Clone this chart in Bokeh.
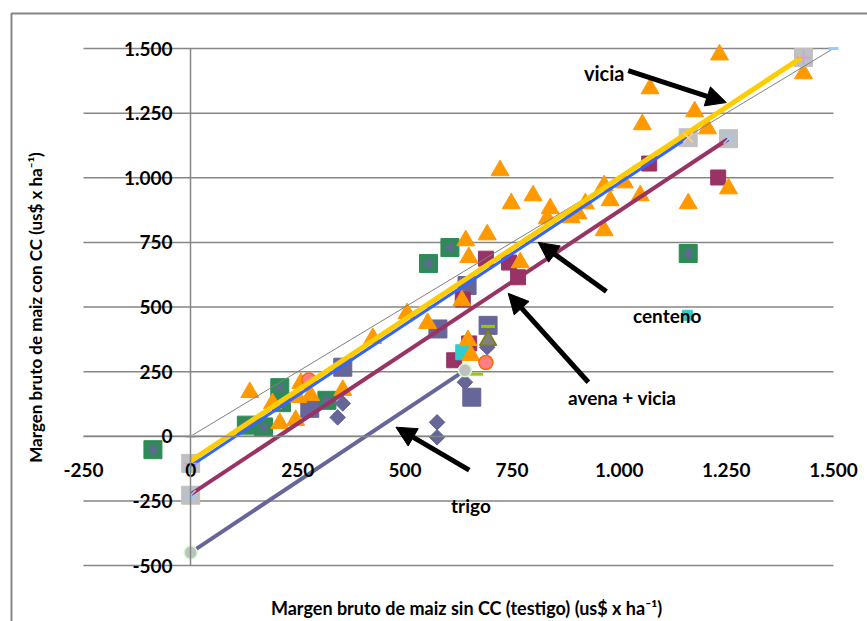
import math
from bokeh.plotting import figure
from bokeh.models import (FixedTicker, Range1d, Label, Arrow, NormalHead, BoxAnnotation)
from bokeh.embed import file_html
from bokeh.resources import INLINE

# ---------------- data ----------------
x_ticks = [-250, 0, 250, 500, 750, 1000, 1250, 1500]
x_tick_labels = ["-250", "0", "250", "500", "750", "1.000", "1.250", "1.500"]
y_ticks = [-500, -250, 0, 250, 500, 750, 1000, 1250, 1500]
y_tick_labels = ["-500", "-250", "0", "250", "500", "750", "1.000", "1.250", "1.500"]

# vicia (orange triangles)
vicia_x = [1234, 1430, 1072, 1176, 1054, 1206, 722, 748, 799, 839, 888, 904, 921,
           965, 1012, 979, 1049, 1161, 965, 1255, 642, 692, 649, 769, 633, 505,
           553, 425, 647, 654, 280, 355, 138, 191, 208, 245, 257, 250, 832]
vicia_y = [1476, 1403, 1345, 1256, 1206, 1190, 1028, 900, 931, 881, 846, 861, 900,
           970, 981, 912, 931, 900, 796, 958, 757, 780, 692, 672, 525, 475,
           437, 379, 371, 313, 158, 178, 170, 127, 50, 62, 205, 151, 842]

# green squares with asterisk
green_x = [-88, 130, 170, 208, 212, 318, 555, 605, 1161]
green_y = [-52, 43, 36, 188, 130, 139, 668, 730, 707]

# avena + vicia (maroon squares)
maroon_x = [689, 743, 764, 1070, 1231, 635, 650, 615]
maroon_y = [687, 672, 615, 1055, 1001, 529, 359, 294]

# slate squares
slate_sq_x = [645, 577, 355, 694, 656, 278]
slate_sq_y = [583, 415, 267, 429, 151, 108]

# trigo (slate diamonds)
trigo_x = [355, 343, 575, 575, 640, 692]
trigo_y = [127, 73, 54, -4, 209, 344]

# other small series
cyan_x = [636]
cyan_y = [325]
coral_x = [689, 276]
coral_y = [285, 218]
graytri_x = [694]
graytri_y = [371]
dash_x = [694, 666]
dash_y = [425, 240]

# regression lines (end points)
vicia_line_x = [0, 1425]
vicia_line_y = [-95, 1465]
blue_line_x = [0, 1160]
blue_line_y = [-115, 1155]
avena_line_x = [0, 1255]
avena_line_y = [-225, 1151]
trigo_line_x = [0, 640]
trigo_line_y = [-450, 255]
one_line_x = [0, 1500]
one_line_y = [0, 1500]

# ---------------- geometry ----------------
W, H = 867, 621
PX_L, PX_R = 83, 833     # pixel of x=-250 and x=1500
PX_T, PX_B = 48, 565     # pixel of y=1500 and y=-500
sx = (PX_R - PX_L) / 1750.0
sy = (PX_B - PX_T) / 2000.0
x_start = -250 - PX_L / sx
x_end = -250 + (W - PX_L) / sx
y_end = 1500 + PX_T / sy
y_start = 1500 - (H - PX_T) / sy

FONT = "Lato"
p = figure(width=W, height=H, output_backend="svg", toolbar_location=None,
           x_range=Range1d(x_start, x_end), y_range=Range1d(y_start, y_end),
           min_border_left=0, min_border_right=0, min_border_top=0,
           min_border_bottom=0)
p.outline_line_color = None
p.background_fill_color = "white"
p.border_fill_color = "white"
p.xgrid.visible = False
p.ygrid.visible = False

# horizontal gridlines (limited to the plot area)
p.segment(x0=[x_ticks[0]] * len(y_ticks), y0=y_ticks,
          x1=[x_ticks[-1]] * len(y_ticks), y1=y_ticks,
          line_color="#868686", line_width=1.5)

for ax in (p.xaxis[0], p.yaxis[0]):
    ax.fixed_location = 0
    ax.axis_line_color = "#868686"
    ax.axis_line_width = 1.5
    ax.major_tick_out = 0
    ax.major_tick_in = 0
    ax.minor_tick_out = 0
    ax.minor_tick_in = 0
    ax.major_label_text_font = FONT
    ax.major_label_text_font_style = "bold"
    ax.major_label_text_font_size = "19px"
    ax.major_label_text_color = "black"

p.xaxis.ticker = FixedTicker(ticks=x_ticks)
p.xaxis.major_label_overrides = {t: s for t, s in zip(x_ticks, x_tick_labels)}
p.xaxis.major_label_standoff = 27
p.xaxis.bounds = (x_ticks[0], x_ticks[-1])
p.yaxis.ticker = FixedTicker(ticks=y_ticks)
p.yaxis.major_label_overrides = {t: s for t, s in zip(y_ticks, y_tick_labels)}
p.yaxis.major_label_standoff = 18
p.yaxis.bounds = (y_ticks[0], y_ticks[-1])

# outer chart border
p.add_layout(BoxAnnotation(left=11, right=3000, top=H - 13, bottom=-3000,
                           left_units="screen", right_units="screen",
                           top_units="screen", bottom_units="screen",
                           fill_alpha=0, line_color="#868686", line_alpha=1.0,
                           line_width=2))

# ---------------- markers ----------------
p.scatter(green_x, green_y, marker="square", size=18, fill_color="#2e8b57",
          line_color="#2e8b57")
p.scatter(green_x, green_y, marker="asterisk", size=12, line_color="#666699",
          line_width=1.5)
p.scatter(slate_sq_x, slate_sq_y, marker="square", size=18, fill_color="#666699",
          line_color="#666699")
p.scatter(maroon_x, maroon_y, marker="square", size=15, fill_color="#993366",
          line_color="#993366")
p.scatter(trigo_x, trigo_y, marker="square", size=11, angle=math.pi / 4,
          fill_color="#666699", line_color="#666699")
p.scatter(cyan_x, cyan_y, marker="square", size=15, fill_color="#33cccc",
          line_color="#33cccc")
p.scatter(graytri_x, graytri_y, marker="triangle", size=17, fill_color="#808080",
          line_color="#808000", line_width=1.5)
p.scatter(vicia_x, vicia_y, marker="triangle", size=18, fill_color="#ff9900",
          line_color="#ff9900")
p.scatter(coral_x, coral_y, marker="circle", size=14, fill_color="#ff8080",
          line_color="#ff6600", line_width=1.5)
p.scatter(dash_x, dash_y, marker="dash", size=14, line_color="#99cc00",
          line_width=3)

# end-point markers of the fitted lines
end_x = [0, 0, 1430, 1161, 1255]
end_y = [-105, -228, 1465, 1155, 1151]
p.scatter(end_x, end_y, marker="square", size=18, fill_color="#c0c0c0",
          line_color="#c0c0c0")

# ---------------- lines ----------------
p.line(one_line_x, one_line_y, line_color="#808080", line_width=1)
p.line(trigo_line_x, trigo_line_y, line_color="#666699", line_width=4)
p.line(avena_line_x, avena_line_y, line_color="#993366", line_width=4)
p.line(blue_line_x, blue_line_y, line_color="#3366ff", line_width=3)
p.line(vicia_line_x, vicia_line_y, line_color="#ffcc00", line_width=5)

p.scatter([1430, 0], [1465, -105], marker="cross", size=14, line_color="#cc99ff",
          line_width=1.5)
p.scatter([1161], [1155], marker="x", size=14, line_color="#ffcc99", line_width=1.5)
p.scatter([1255, 0], [1151, -228], marker="x", size=14, line_color="#99ccff",
          line_width=1.5)
p.scatter(trigo_line_x, trigo_line_y, marker="circle", size=13,
          fill_color="#c0c0c0", line_color="#ccffcc", line_width=1.5)
p.scatter(one_line_x, one_line_y, marker="dash", size=10, line_color="#99ccff",
          line_width=3)
p.scatter([1159], [468], marker="square", size=10, fill_color="#33cccc",
          line_color="#33cccc")

# ---------------- annotations ----------------
def arrow(x0, y0, x1, y1):
    p.add_layout(Arrow(x_start=x0, y_start=y0, x_end=x1, y_end=y1,
                       line_color="black", line_width=5,
                       end=NormalHead(size=20, fill_color="black",
                                      line_color="black", line_width=1)))

arrow(1021, 1414, 1250, 1291)   # vicia
arrow(970, 560, 811, 750)       # blue line
arrow(928, 209, 741, 553)       # avena + vicia
arrow(650, -131, 479, 35)       # trigo

def txt(x, y, s, size="19px"):
    p.add_layout(Label(x=x, y=y, text=s, text_font=FONT, text_font_style="bold",
                       text_font_size=size, text_align="center",
                       text_baseline="middle", text_color="black"))

txt(965, 1406, "vicia", "20px")
txt(1112, 467, "centeno", "19px")
txt(1007, 151, "avena + vicia", "19px")
txt(654, -267, "trigo", "19px")

# axis titles
p.add_layout(Label(x=35, y=H - 307, x_units="screen", y_units="screen",
                   text="Margen bruto de maiz con CC (us$ x ha\u207b\u00b9)",
                   angle=math.pi / 2, text_font=FONT, text_font_style="bold",
                   text_font_size="17px", text_align="center",
                   text_baseline="middle", text_color="black"))
p.add_layout(Label(x=466, y=H - 607, x_units="screen", y_units="screen",
                   text="Margen bruto de maiz sin CC (testigo) (us$ x ha\u207b\u00b9)",
                   text_font=FONT, text_font_style="bold",
                   text_font_size="18px", text_align="center",
                   text_baseline="middle", text_color="black"))

open("out.html", "w").write(file_html(p, INLINE))
